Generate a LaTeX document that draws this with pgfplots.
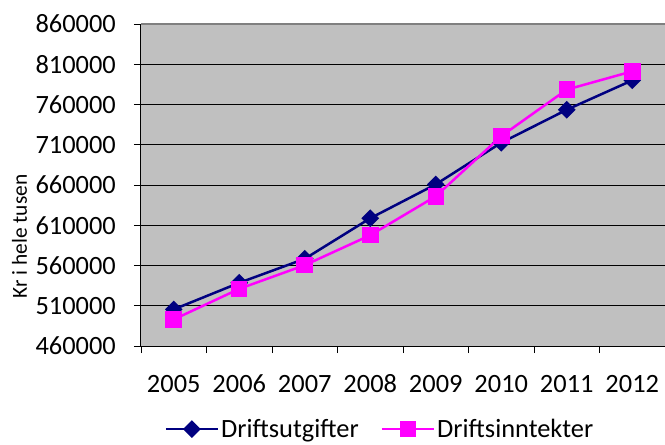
\documentclass[border=0pt]{standalone}
\usepackage{fontspec}
\setmainfont{Carlito}
\usepackage{pgfplots}
\pgfplotsset{compat=1.18}
\definecolor{navy}{HTML}{000080}
\definecolor{mag}{HTML}{FF00FF}
\definecolor{plotbg}{HTML}{C0C0C0}
\begin{document}
\begin{tikzpicture}
\begin{axis}[
  scale only axis, width=524bp, height=322bp,
  xmin=-0.5, xmax=7.5, ymin=460000, ymax=860000,
  axis background/.style={fill=plotbg},
  axis lines*=left,
  axis line style={black, line width=1bp},
  tick align=outside,
  tick pos=left,
  major tick length=7bp,
  tick style={black, line width=0.8bp},
  xtick={-0.5,0.5,...,7.5},
  x tick label as interval,
  xticklabels={2005,2006,2007,2008,2009,2010,2011,2012},
  ytick={460000,510000,...,810000},
  extra y ticks={860000},
  extra y tick style={grid style={gray, line width=1.5bp}},
  ymajorgrids,
  grid style={black, line width=0.8bp},
  scaled y ticks=false,
  /pgf/number format/fixed,
  /pgf/number format/1000 sep={},
  /pgf/number format/assume math mode=true,
  tick label style={font=\fontsize{26.5}{30}\selectfont},
  yticklabel style={anchor=east, inner sep=0pt, xshift=-18bp},
  xticklabel style={anchor=center, inner sep=0pt, yshift=-31bp},
  ylabel={Kr i hele tusen},
  ylabel style={at={(axis description cs:-0.232,0.34)}, anchor=center, font=\fontsize{21.5}{25}\selectfont},
  legend style={at={(axis description cs:0.456,-0.258)}, anchor=center, legend columns=2, draw=none, fill=none,
    font=\fontsize{26.5}{30}\selectfont, inner sep=0pt,
    /tikz/every even column/.append style={column sep=20bp}},
  legend image code/.code={\draw[mark repeat=2,mark phase=2,#1] plot coordinates {(0bp,0bp) (26bp,0bp) (52bp,0bp)};},
]
\coordinate (bl) at (rel axis cs:0,0);
\coordinate (tr) at (rel axis cs:1,1);
\addplot[navy, line width=2.5bp, mark=square*, mark size=5bp, mark options={rotate=45, solid}] coordinates {
  (0,505500) (1,538500) (2,568300) (3,618700) (4,660800) (5,712500) (6,753500) (7,790000)};
\addlegendentry{Driftsutgifter}
\addplot[mag, line width=2.5bp, mark=square*, mark size=7bp, mark options={solid}] coordinates {
  (0,493000) (1,531000) (2,560400) (3,597600) (4,646000) (5,720700) (6,778500) (7,801200)};
\addlegendentry{Driftsinntekter}
\end{axis}
\pgfresetboundingbox
\path ([xshift=-141bp,yshift=-99bp]bl) rectangle ([yshift=24bp]tr);
\end{tikzpicture}
\end{document}
